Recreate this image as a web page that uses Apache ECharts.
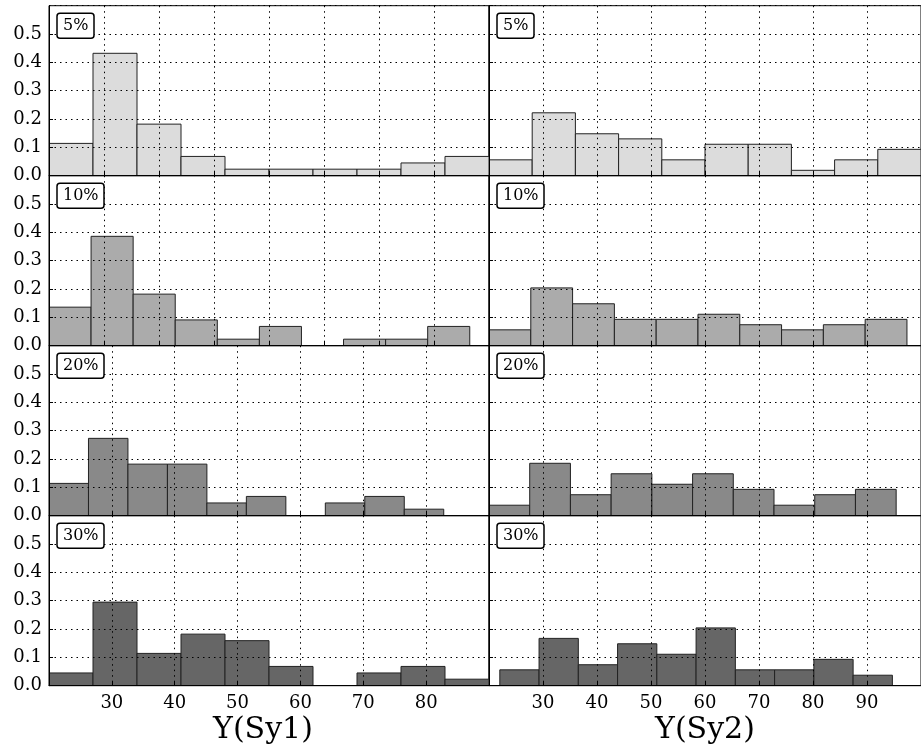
<!DOCTYPE html>
<html><head><meta charset="utf-8">
<script src="https://cdn.jsdelivr.net/npm/echarts@6/dist/echarts.min.js"></script>
<style>html,body{margin:0;padding:0;background:#fff}#c{width:921px;height:749px}</style>
</head><body><div id="c"></div>
<script>
// ---- data ----
const panelLabels = ['5%', '10%', '20%', '30%'];
const xTitles = ['Y(Sy1)', 'Y(Sy2)'];
const xTickValues = [30, 40, 50, 60, 70, 80, 90];
const yTickValues = [0.0, 0.1, 0.2, 0.3, 0.4, 0.5];

// relative frequencies of the 10 bins in each panel
const sy1_5  = [0.114, 0.432, 0.182, 0.068, 0.023, 0.023, 0.023, 0.023, 0.045, 0.068];
const sy1_10 = [0.136, 0.386, 0.182, 0.091, 0.023, 0.068, 0.000, 0.023, 0.023, 0.068];
const sy1_20 = [0.114, 0.273, 0.182, 0.182, 0.045, 0.068, 0.000, 0.045, 0.068, 0.023];
const sy1_30 = [0.045, 0.295, 0.114, 0.182, 0.159, 0.068, 0.000, 0.045, 0.068, 0.023];
const sy2_5  = [0.056, 0.222, 0.148, 0.130, 0.056, 0.111, 0.111, 0.019, 0.056, 0.093];
const sy2_10 = [0.056, 0.204, 0.148, 0.093, 0.093, 0.111, 0.074, 0.056, 0.074, 0.093];
const sy2_20 = [0.037, 0.185, 0.074, 0.148, 0.111, 0.148, 0.093, 0.037, 0.074, 0.093];
const sy2_30 = [0.056, 0.167, 0.074, 0.148, 0.111, 0.204, 0.056, 0.056, 0.093, 0.037];

// data range covered by the histogram bins (lo, hi) in each panel
const sy1Ranges = [[20, 100], [20, 96.5], [20, 82.8], [20, 90]];
const sy2Ranges = [[20, 100], [20, 97.4], [20, 95.4], [22, 94.7]];
// x axis extent of each panel
const sy1AxisRanges = [[20, 100], [20, 100], [20, 90], [20, 90]];
const sy2AxisRanges = [[20, 100], [20, 100], [20, 100], [20, 100]];

// ---- style ----
const FONT = '"DejaVu Serif", serif';
const fills = ['#dcdcdc', '#ababab', '#898989', '#666666'];
const gridTops = [5.7, 175.7, 345.7, 515.7];
const gridH = 170;
const colLeft = [49, 489];
const colW = 440;

const heights = [[sy1_5, sy1_10, sy1_20, sy1_30], [sy2_5, sy2_10, sy2_20, sy2_30]];
const binRanges = [sy1Ranges, sy2Ranges];
const axisRanges = [sy1AxisRanges, sy2AxisRanges];

const grids = [], xAxes = [], yAxes = [], series = [], titles = [];
let k = 0;
for (let c = 0; c < 2; c++) {
  for (let r = 0; r < 4; r++) {
    const isBottom = r === 3;
    grids.push({left: colLeft[c], top: gridTops[r], width: colW, height: gridH,
      show: true, borderColor: '#000', borderWidth: 1, backgroundColor: 'transparent', containLabel: false});
    const ar = axisRanges[c][r];
    xAxes.push({
      type: 'value', gridIndex: k, min: ar[0], max: ar[1], interval: 10, z: 5,
      axisLine: {show: true, onZero: false, lineStyle: {color: '#000', width: 1}},
      axisTick: {show: true, inside: true, length: 4, lineStyle: {color: '#000'}},
      axisLabel: {show: isBottom, showMinLabel: false, showMaxLabel: false, margin: 9,
        fontFamily: FONT, fontSize: 18, color: '#000',
        formatter: v => xTickValues.includes(v) ? String(v) : ''},
      splitLine: {show: true, lineStyle: {color: '#000', width: 1, type: [1.5, 4]}},
      name: isBottom ? xTitles[c] : '', nameLocation: 'middle', nameGap: 30,
      nameTextStyle: {fontFamily: FONT, fontSize: 30, color: '#000', verticalAlign: 'top',
        padding: c === 0 ? [0, 12, 0, 0] : 0}
    });
    yAxes.push({
      type: 'value', gridIndex: k, min: 0, max: 0.6, interval: 0.1, z: 5,
      axisLine: {show: true, lineStyle: {color: '#000', width: 1}},
      axisTick: {show: true, inside: true, length: 4, lineStyle: {color: '#000'}},
      axisLabel: {show: c === 0, showMaxLabel: false, margin: 7, fontFamily: FONT, fontSize: 18, color: '#000',
        formatter: v => yTickValues.some(t => Math.abs(t - v) < 1e-9) ? v.toFixed(1) : ''},
      splitLine: {show: true, lineStyle: {color: '#000', width: 1, type: [1.5, 4]}}
    });
    const h = heights[c][r];
    const [lo, hi] = binRanges[c][r];
    const w = (hi - lo) / h.length;
    const data = h.map((v, i) => [lo + i * w, lo + (i + 1) * w, v]);
    const fill = fills[r];
    series.push({
      type: 'custom', xAxisIndex: k, yAxisIndex: k, z: 2, clip: true,
      data: data,
      renderItem: (params, api) => {
        const v = api.value(2);
        if (!(v > 0)) return null;
        const p0 = api.coord([api.value(0), 0]);
        const p1 = api.coord([api.value(1), v]);
        return {type: 'rect',
          shape: {x: p0[0], y: p1[1], width: p1[0] - p0[0], height: p0[1] - p1[1]},
          style: {fill: fill, stroke: '#222', lineWidth: 1}};
      }
    });
    titles.push({
      text: panelLabels[r], left: colLeft[c] + 8, top: gridTops[r] + 7.5,
      padding: [3, 6, 3, 6], borderColor: '#000', borderWidth: 1.5, borderRadius: 3,
      backgroundColor: '#fff', z: 10,
      textStyle: {fontFamily: FONT, fontSize: 16, fontWeight: 'normal', color: '#000', lineHeight: 19}
    });
    k++;
  }
}

const chart = echarts.init(document.getElementById('c'), null, {renderer: 'canvas'});
chart.setOption({
  animation: false,
  backgroundColor: '#fff',
  title: titles,
  grid: grids,
  xAxis: xAxes,
  yAxis: yAxes,
  series: series
});
</script>
</body></html>
